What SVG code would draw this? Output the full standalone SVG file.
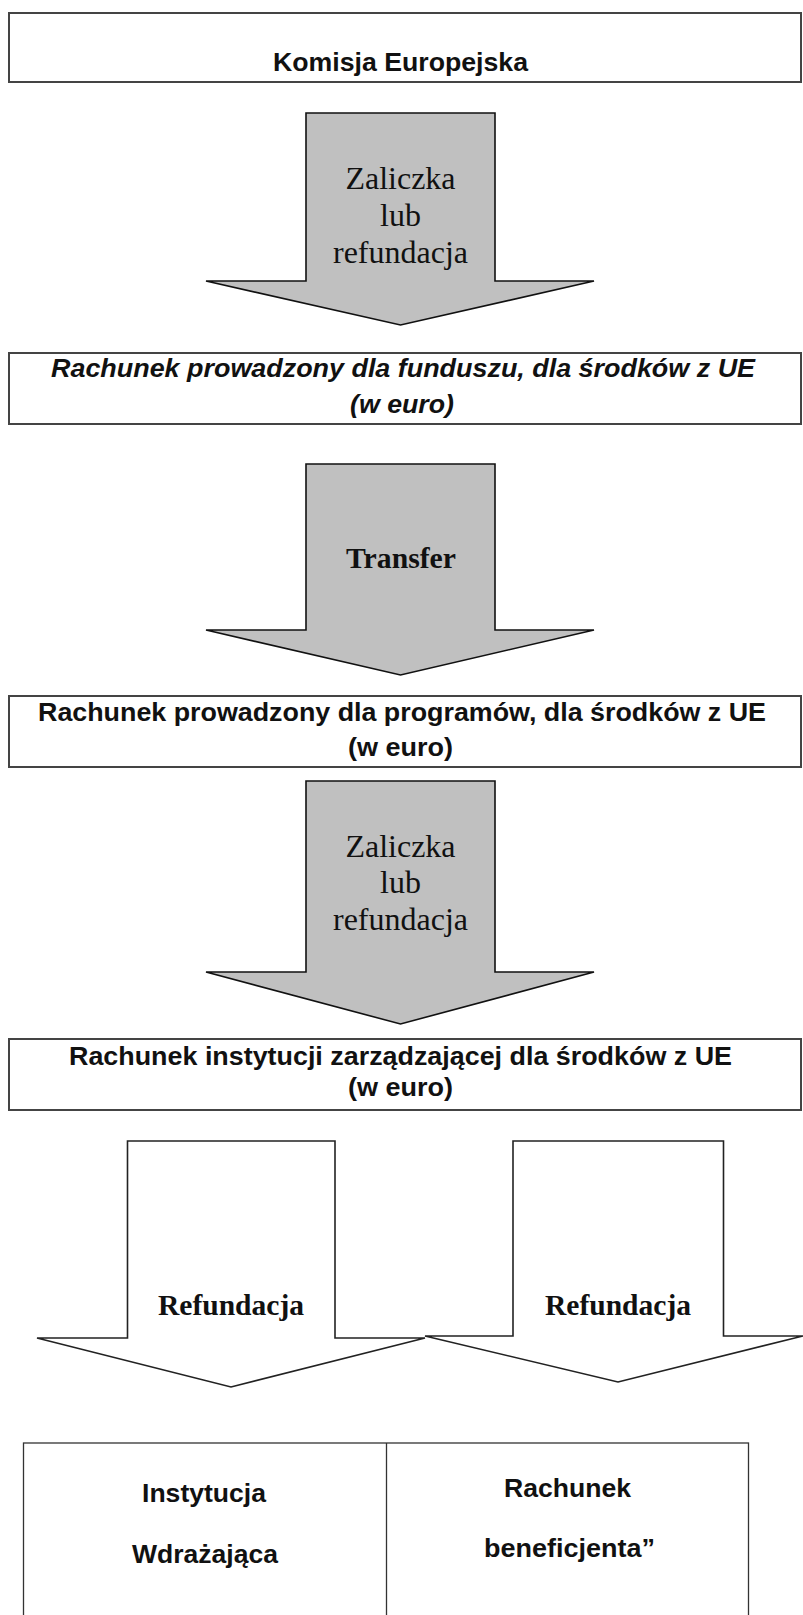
<svg xmlns="http://www.w3.org/2000/svg" width="803" height="1615" viewBox="0 0 803 1615">
<style>
.box{fill:#fff;stroke:#444;stroke-width:2}
.garrow{fill:#c0c0c0;stroke:#111;stroke-width:1.6}
.warrow{fill:#fff;stroke:#222;stroke-width:1.6}
.tbl{fill:#fff;stroke:#333;stroke-width:1.3}
.sans{font-family:"Liberation Sans",Arial,sans-serif;font-weight:bold;font-size:26px;fill:#111;text-anchor:middle}
.ital{font-style:italic}
.serif{font-family:"Liberation Serif","Times New Roman",serif;font-size:32px;fill:#111;text-anchor:middle}
.serifb{font-family:"Liberation Serif","Times New Roman",serif;font-weight:bold;font-size:29px;fill:#111;text-anchor:middle}
</style>
<rect width="803" height="1615" fill="#fff"/>
<g id="connectors">
  <g id="arrow1">
    <polygon class="garrow" points="306,113 495,113 495,281 594,281 400.5,325 206,281 306,281"/>
    <text class="serif" x="400.5" y="189">Zaliczka</text>
    <text class="serif" x="400.5" y="226">lub</text>
    <text class="serif" x="400.5" y="263">refundacja</text>
  </g>
  <g id="arrow2">
    <polygon class="garrow" points="306,464 495,464 495,630 594,630 400.5,675 206,630 306,630"/>
    <text class="serifb" x="401" y="568" textLength="110" lengthAdjust="spacingAndGlyphs">Transfer</text>
  </g>
  <g id="arrow3">
    <polygon class="garrow" points="306,781 495,781 495,972 594,972 400.5,1024 206,972 306,972"/>
    <text class="serif" x="400.5" y="857">Zaliczka</text>
    <text class="serif" x="400.5" y="893">lub</text>
    <text class="serif" x="400.5" y="930">refundacja</text>
  </g>
  <g id="arrow4">
    <polygon class="warrow" points="127.5,1141 335,1141 335,1338 425,1338 231,1387 37,1338 127.5,1338"/>
    <text class="serifb" x="231" y="1315" textLength="146" lengthAdjust="spacingAndGlyphs">Refundacja</text>
  </g>
  <g id="arrow5">
    <polygon class="warrow" points="513,1141 723.5,1141 723.5,1336 803,1336 618,1382 425,1336 513,1336"/>
    <text class="serifb" x="618" y="1315" textLength="146" lengthAdjust="spacingAndGlyphs">Refundacja</text>
  </g>
</g>
<g id="node-komisja">
  <rect class="box" x="9" y="13" width="792" height="69"/>
  <text class="sans" x="400.5" y="71" textLength="255" lengthAdjust="spacingAndGlyphs">Komisja Europejska</text>
</g>
<g id="node-fundusz">
  <rect class="box" x="9" y="353" width="792" height="71"/>
  <text class="sans ital" x="403" y="377" textLength="704" lengthAdjust="spacingAndGlyphs">Rachunek prowadzony dla funduszu, dla środków z UE</text>
  <text class="sans ital" x="402" y="413" textLength="104" lengthAdjust="spacingAndGlyphs">(w euro)</text>
</g>
<g id="node-programy">
  <rect class="box" x="9" y="696" width="792" height="71"/>
  <text class="sans" x="402" y="721" textLength="728" lengthAdjust="spacingAndGlyphs">Rachunek prowadzony dla programów, dla środków z UE</text>
  <text class="sans" x="400.5" y="756" textLength="105" lengthAdjust="spacingAndGlyphs">(w euro)</text>
</g>
<g id="node-instytucja-zarzadzajaca">
  <rect class="box" x="9" y="1039" width="792" height="71"/>
  <text class="sans" x="400.5" y="1065" textLength="663" lengthAdjust="spacingAndGlyphs">Rachunek instytucji zarządzającej dla środków z UE</text>
  <text class="sans" x="400.5" y="1096" textLength="105" lengthAdjust="spacingAndGlyphs">(w euro)</text>
</g>
<g id="node-bottom">
  <rect class="tbl" x="23.5" y="1443" width="725" height="200"/>
  <line class="tbl" x1="386.5" y1="1443" x2="386.5" y2="1615"/>
  <text class="sans" x="204" y="1502" textLength="124" lengthAdjust="spacingAndGlyphs">Instytucja</text>
  <text class="sans" x="205" y="1563" textLength="146" lengthAdjust="spacingAndGlyphs">Wdrażająca</text>
  <text class="sans" x="567.5" y="1497" textLength="127" lengthAdjust="spacingAndGlyphs">Rachunek</text>
  <text class="sans" x="569.5" y="1557" textLength="171" lengthAdjust="spacingAndGlyphs">beneficjenta”</text>
</g>
</svg>
